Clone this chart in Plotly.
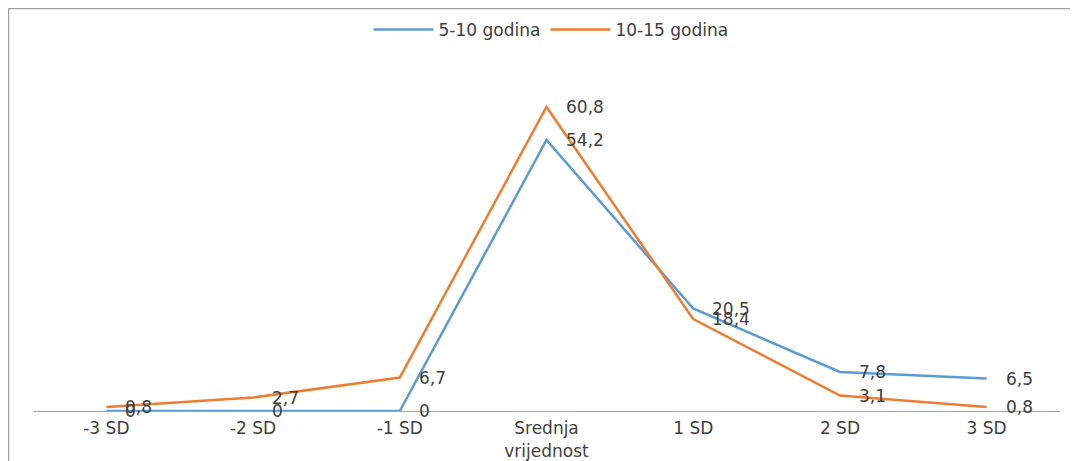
import plotly.graph_objects as go

categories = ["-3 SD", "-2 SD", "-1 SD", "Srednja<br>vrijednost", "1 SD", "2 SD", "3 SD"]
series_a_name = "5-10 godina"
series_a = [0, 0, 0, 54.2, 20.5, 7.8, 6.5]
series_b_name = "10-15 godina"
series_b = [0.8, 2.7, 6.7, 60.8, 18.4, 3.1, 0.8]

blue = "#5B9BD5"
orange = "#ED7D31"
font_family = "DejaVu Sans, sans-serif"
text_color = "#404040"
fsize = 17

fig = go.Figure()
fig.add_trace(go.Scatter(x=categories, y=series_a, mode="lines", name=series_a_name,
                         line=dict(color=blue, width=2.5)))
fig.add_trace(go.Scatter(x=categories, y=series_b, mode="lines", name=series_b_name,
                         line=dict(color=orange, width=2.5)))

def fmt(v):
    return ("%g" % v).replace(".", ",")

annotations = []
for vals in (series_a, series_b):
    for c, v in zip(categories, vals):
        annotations.append(dict(x=c, y=v, xref="x", yref="y", text=fmt(v), showarrow=False,
                                xanchor="left", yanchor="middle", xshift=17,
                                font=dict(family=font_family, size=fsize, color=text_color)))

# page body adds an 8px offset; figure coordinates below are image coordinates minus 8
W, H = 1070, 453
ml, mr, mt, mb = 25, 18, 53, 50
pw = W - ml - mr
ph = H - mt - mb
def px_to_paper_x(px):
    return (px - ml) / pw
def px_to_paper_y(py):
    return (H - mb - py) / ph

shapes = [
    dict(type="line", xref="paper", yref="paper", x0=px_to_paper_x(0.5), x1=px_to_paper_x(W + 5),
         y0=px_to_paper_y(0.5), y1=px_to_paper_y(0.5), line=dict(color="#A0A0A0", width=1.5)),
    dict(type="line", xref="paper", yref="paper", x0=px_to_paper_x(0.5), x1=px_to_paper_x(0.5),
         y0=px_to_paper_y(0.5), y1=px_to_paper_y(H + 5), line=dict(color="#A0A0A0", width=1.5)),
]

fig.update_layout(
    width=W, height=H,
    margin=dict(l=ml, r=mr, t=mt, b=mb, autoexpand=False),
    paper_bgcolor="white", plot_bgcolor="white",
    font=dict(family=font_family, size=fsize, color=text_color),
    showlegend=True,
    legend=dict(orientation="h", x=px_to_paper_x(543), xanchor="center", y=px_to_paper_y(22), yanchor="middle",
                font=dict(family=font_family, size=fsize, color=text_color), itemwidth=60),
    xaxis=dict(type="category", range=[-0.5, 6.5], showline=True, linecolor="#A6A6A6", linewidth=1,
               showgrid=False, zeroline=False, ticks="", automargin=False, ticklabelstandoff=2,
               tickfont=dict(size=fsize, color=text_color)),
    yaxis=dict(range=[0, 70], visible=False, showgrid=False, zeroline=False, automargin=False),
    annotations=annotations,
    shapes=shapes,
)

fig.write_html("out.html")
